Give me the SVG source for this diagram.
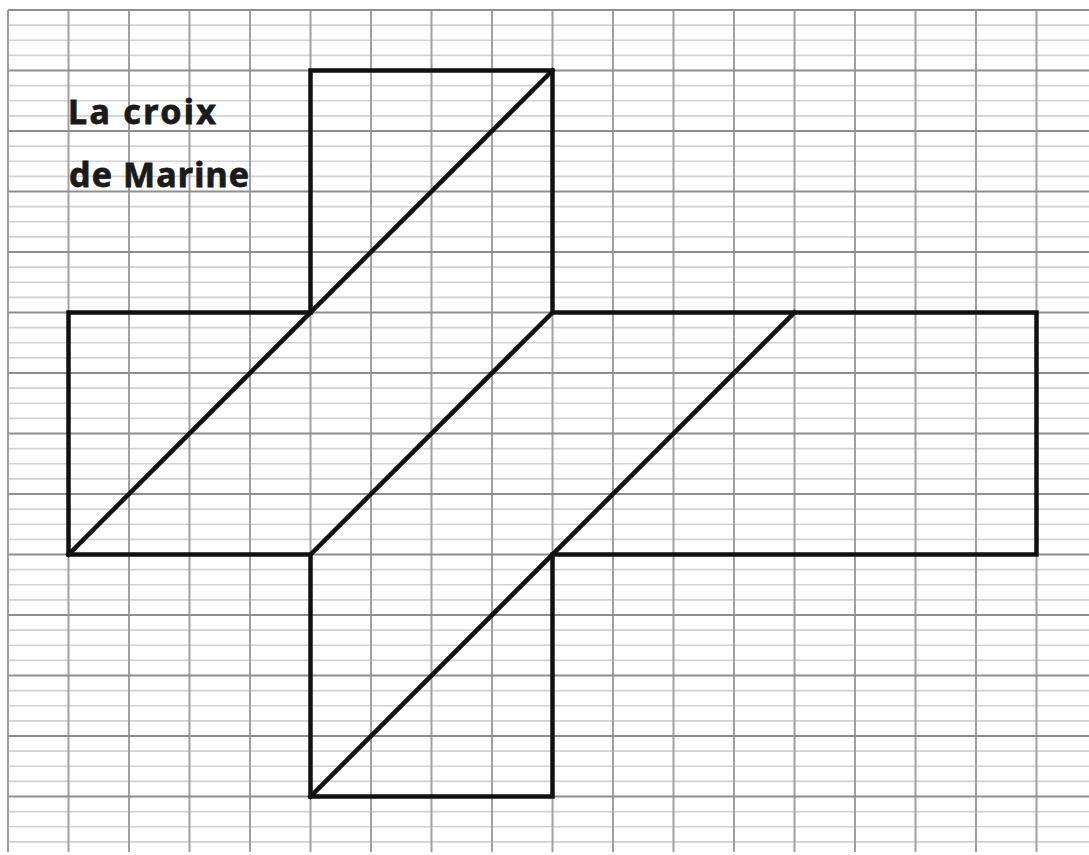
<svg xmlns="http://www.w3.org/2000/svg" width="1089" height="855" viewBox="0 0 1089 855">
<style>
.minor{stroke:#d2d2d2;stroke-width:1.6;fill:none}
.major{stroke:#8e8e8e;stroke-width:2;fill:none}
.vert{stroke:#a0a0a0;stroke-width:2;fill:none}
.shape{stroke:#111;stroke-width:4.5;fill:none;stroke-linejoin:miter;stroke-linecap:square}
.title{font-family:"Noto Sans","DejaVu Sans",sans-serif;font-weight:bold;font-size:34px;fill:#1a1a1a;stroke:#1a1a1a;stroke-width:0.8}
</style>
<rect width="1089" height="855" fill="#fff"/>
<g id="grid">
<path class="minor" d="M8 25.1H1089M8 40.3H1089M8 55.4H1089M8 85.6H1089M8 100.8H1089M8 115.9H1089M8 146.1H1089M8 161.3H1089M8 176.4H1089M8 206.6H1089M8 221.8H1089M8 236.9H1089M8 267.1H1089M8 282.3H1089M8 297.4H1089M8 327.6H1089M8 342.8H1089M8 357.9H1089M8 388.1H1089M8 403.3H1089M8 418.4H1089M8 448.6H1089M8 463.8H1089M8 478.9H1089M8 509.1H1089M8 524.3H1089M8 539.4H1089M8 569.6H1089M8 584.8H1089M8 599.9H1089M8 630.1H1089M8 645.3H1089M8 660.4H1089M8 690.6H1089M8 705.8H1089M8 720.9H1089M8 751.1H1089M8 766.3H1089M8 781.4H1089M8 811.6H1089M8 826.8H1089M8 841.9H1089"/>
<path class="vert" d="M8 10V852M68.5 10V852M129 10V852M189.5 10V852M250 10V852M310.5 10V852M371 10V852M431.5 10V852M492 10V852M552.5 10V852M613 10V852M673.5 10V852M734 10V852M794.5 10V852M855 10V852M915.5 10V852M976 10V852M1036.5 10V852"/>
<path class="major" d="M8 10H1089M8 70.5H1089M8 131H1089M8 191.5H1089M8 252H1089M8 312.5H1089M8 373H1089M8 433.5H1089M8 494H1089M8 554.5H1089M8 615H1089M8 675.5H1089M8 736H1089M8 796.5H1089"/>
</g>
<g id="title">
<text class="title" x="68" y="124" textLength="148" lengthAdjust="spacing">La croix</text>
<text class="title" x="69" y="187" textLength="180" lengthAdjust="spacing">de Marine</text>
</g>
<g id="cross">
<path class="shape" d="M310.5 312.5V70.5H552.5V312.5H1036.5V554.5H552.5V796.5H310.5V554.5H68.5V312.5Z"/>
</g>
<g id="connectors">
<path class="shape" d="M68.5 554.5L552.5 70.5M310.5 554.5L552.5 312.5M310.5 796.5L794.5 312.5"/>
</g>
</svg>
